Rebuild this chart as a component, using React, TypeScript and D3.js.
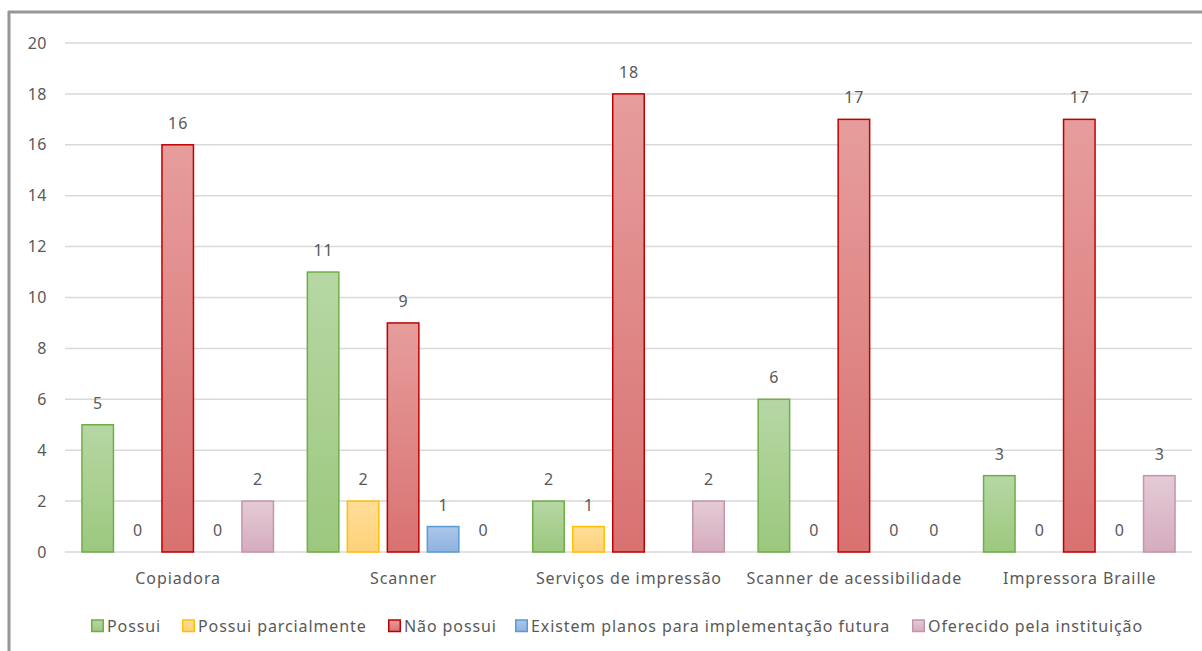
import React from "react";
import * as d3 from "d3";

const categories = [
  "Copiadora",
  "Scanner",
  "Serviços de impressão",
  "Scanner de acessibilidade",
  "Impressora Braille",
];
const seriesNames = [
  "Possui",
  "Possui parcialmente",
  "Não possui",
  "Existem planos para implementação futura",
  "Oferecido pela instituição",
];
const possui = [5, 11, 2, 6, 3];
const possuiParcialmente = [0, 2, 1, 0, 0];
const naoPossui = [16, 9, 18, 17, 17];
const existemPlanos: (number | null)[] = [0, 1, null, 0, 0];
const oferecido = [2, 0, 2, 0, 3];
const yTicks = [0, 2, 4, 6, 8, 10, 12, 14, 16, 18, 20];

const seriesValues = [possui, possuiParcialmente, naoPossui, existemPlanos, oferecido];
const styles = [
  { top: "#b6d7a4", bottom: "#9cc87e", stroke: "#70ad47" },
  { top: "#ffdd99", bottom: "#ffd27a", stroke: "#ffc000" },
  { top: "#e69d9c", bottom: "#d87271", stroke: "#c00000" },
  { top: "#abc7ea", bottom: "#8fb2e0", stroke: "#5b9bd5" },
  { top: "#e4cbd6", bottom: "#d5acbe", stroke: "#c495ab" },
];
const legendX = [91, 182, 388, 515, 912];

const FONT = "'Noto Sans', sans-serif";
const TXT = "#595959";
const LS = 0.9;

export default function App() {
  const W = 1202, H = 651;
  const plotL = 65, plotR = 1192;
  const y = d3.scaleLinear().domain([0, 20]).range([552, 43]);
  const x0 = d3.scaleBand<string>().domain(categories).range([plotL, plotR]).padding(0);
  const x1 = d3
    .scaleBand<string>()
    .domain(seriesNames)
    .range([0, x0.bandwidth()])
    .paddingInner(0.175)
    .paddingOuter(0.405);

  return (
    <svg width={W} height={H} style={{ position: "absolute", left: 0, top: 0, background: "#fff" }}>
      <defs>
        {styles.map((s, i) => (
          <linearGradient key={i} id={`g${i}`} x1="0" y1="0" x2="0" y2="1">
            <stop offset="0" stopColor={s.top} />
            <stop offset="1" stopColor={s.bottom} />
          </linearGradient>
        ))}
      </defs>
      <rect x={0} y={0} width={W} height={H} fill="#fff" />
      <line x1={8} x2={W} y1={12} y2={12} stroke="#969696" strokeWidth={3} />
      <line x1={9} x2={9} y1={11} y2={H} stroke="#969696" strokeWidth={3} />
      {yTicks.map((t) => (
        <g key={t}>
          <line x1={plotL} x2={plotR} y1={y(t)} y2={y(t)} stroke="#d9d9d9" strokeWidth={1.5} />
          <text x={47} y={y(t)} dy="0.35em" textAnchor="end" fontFamily={FONT} fontSize={16} letterSpacing={0.5} fill={TXT}>
            {t}
          </text>
        </g>
      ))}
      {categories.map((c, ci) => (
        <g key={c} transform={`translate(${x0(c)},0)`}>
          {seriesNames.map((s, si) => {
            const v = seriesValues[si][ci];
            if (v === null || v === undefined) return null;
            const bx = x1(s)!;
            const bw = x1.bandwidth();
            return (
              <g key={s}>
                {v > 0 && (
                  <rect
                    x={bx + 0.75}
                    y={y(v)}
                    width={bw - 1.5}
                    height={y(0) - y(v)}
                    fill={`url(#g${si})`}
                    stroke={styles[si].stroke}
                    strokeWidth={1.5}
                  />
                )}
                <text
                  x={bx + bw / 2 + LS / 2}
                  y={y(v) - 16}
                  textAnchor="middle"
                  fontFamily={FONT}
                  fontSize={16}
                  letterSpacing={LS}
                  fill={TXT}
                >
                  {v}
                </text>
              </g>
            );
          })}
          <text
            x={x0.bandwidth() / 2 + LS / 2}
            y={584}
            textAnchor="middle"
            fontFamily={FONT}
            fontSize={16}
            letterSpacing={LS}
            fill={TXT}
          >
            {c}
          </text>
        </g>
      ))}
      {seriesNames.map((s, si) => (
        <g key={s} transform={`translate(${legendX[si]},0)`}>
          <rect x={0.75} y={620} width={11.5} height={11.5} fill={`url(#g${si})`} stroke={styles[si].stroke} strokeWidth={1.5} />
          <text x={16} y={632} fontFamily={FONT} fontSize={16} letterSpacing={LS} fill={TXT}>
            {s}
          </text>
        </g>
      ))}
    </svg>
  );
}
